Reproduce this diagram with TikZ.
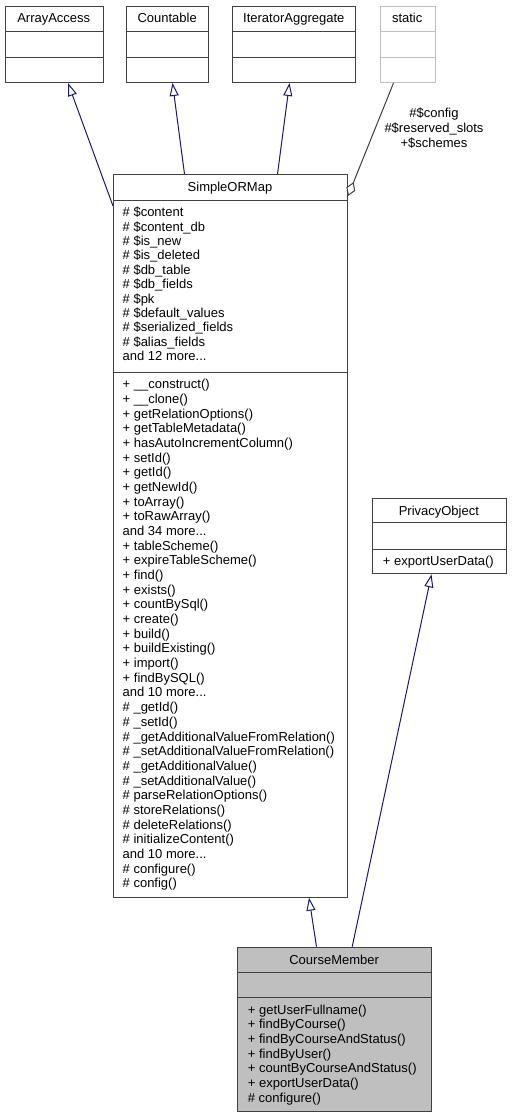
\documentclass[tikz,border=0pt]{standalone}
\usepackage{fontspec}
\setmainfont{Liberation Sans}
\usetikzlibrary{arrows.meta}
\definecolor{edgeblue}{HTML}{191970}
\definecolor{boxline}{HTML}{404040}
\definecolor{greyline}{HTML}{BFBFBF}
\definecolor{cmfill}{HTML}{BFBFBF}
\newcommand\moredots{...}
\tikzset{
  classbox/.style={draw=boxline, line width=1pt, fill=white, inner sep=0pt, anchor=north west},
  divider/.style={draw=boxline, line width=1pt},
  txt/.style={inner sep=0pt, anchor=base west, font=\fontsize{13}{14.68}\selectfont},
  ttl/.style={inner sep=0pt, anchor=base, font=\fontsize{13}{14.68}\selectfont},
  inherit/.style={draw=edgeblue, line width=1pt, -{Triangle[open, length=13pt, width=9pt, fill=white]}},
  usage/.style={draw=boxline, line width=1pt, -{Diamond[open, length=15pt, width=9.5pt, fill=white]}},
}
\begin{document}
\begin{tikzpicture}[x=1pt,y=-1pt]
\useasboundingbox (0,0) rectangle (512,1117);
\fill[white] (0,0) rectangle (512,1117);

% ---- top interface boxes
\node[classbox, minimum width=97.5pt, minimum height=76.5pt] (aa) at (5,5.5) {};
\draw[divider] ([yshift=-26pt]aa.north west) -- ([yshift=-26pt]aa.north east);
\draw[divider] ([yshift=-51.5pt]aa.north west) -- ([yshift=-51.5pt]aa.north east);
\node[ttl] (aat) at (53.75,22.8) {ArrayAccess};

\node[classbox, minimum width=81.7pt, minimum height=76.5pt] (cnt) at (126.3,5.5) {};
\draw[divider] ([yshift=-26pt]cnt.north west) -- ([yshift=-26pt]cnt.north east);
\draw[divider] ([yshift=-51.5pt]cnt.north west) -- ([yshift=-51.5pt]cnt.north east);
\node[ttl] (cntt) at (167.15,22.8) {Countable};

\node[classbox, minimum width=123pt, minimum height=76.5pt] (ia) at (232.3,5.5) {};
\draw[divider] ([yshift=-26pt]ia.north west) -- ([yshift=-26pt]ia.north east);
\draw[divider] ([yshift=-51.5pt]ia.north west) -- ([yshift=-51.5pt]ia.north east);
\node[ttl] (iat) at (293.8,22.8) {IteratorAggregate};

\node[classbox, draw=greyline, minimum width=55pt, minimum height=76.5pt] (st) at (379.7,5.5) {};
\draw[divider, draw=greyline] ([yshift=-26pt]st.north west) -- ([yshift=-26pt]st.north east);
\draw[divider, draw=greyline] ([yshift=-51.5pt]st.north west) -- ([yshift=-51.5pt]st.north east);
\node[ttl] (stt) at (407.2,22.8) {static};

% ---- SimpleORMap
\node[classbox, minimum width=234pt, minimum height=722.7pt] (sorm) at (113,174) {};
\draw[divider] ([yshift=-26.5pt]sorm.north west) -- ([yshift=-26.5pt]sorm.north east);
\draw[divider] ([yshift=-198.5pt]sorm.north west) -- ([yshift=-198.5pt]sorm.north east);
\node[ttl] (sormt) at (230,191.3) {SimpleORMap};
\foreach \t [count=\i] in {\# \$content, \# \$content\_db, \# \$is\_new, \# \$is\_deleted, \# \$db\_table, \# \$db\_fields, \# \$pk, \# \$default\_values, \# \$serialized\_fields, \# \$alias\_fields, and 12 more\moredots}
  \node[txt] (sa\i) at (122.5, 216.7+14.4*\i-14.4) {\t};
\foreach \t [count=\i] in {+ \_\_construct(), + \_\_clone(), + getRelationOptions(), + getTableMetadata(), + hasAutoIncrementColumn(), + setId(), + getId(), + getNewId(), + toArray(), + toRawArray(), and 34 more\moredots, + tableScheme(), + expireTableScheme(), + find(), + exists(), + countBySql(), + create(), + build(), + buildExisting(), + import(), + findBySQL(), and 10 more\moredots, \# \_getId(), \# \_setId(), \# \_getAdditionalValueFromRelation(), \# \_setAdditionalValueFromRelation(), \# \_getAdditionalValue(), \# \_setAdditionalValue(), \# parseRelationOptions(), \# storeRelations(), \# deleteRelations(), \# initializeContent(), and 10 more\moredots, \# configure(), \# config()}
  \node[txt] (sm\i) at (122.5, 388.7+14.68*\i-14.68) {\t};

% ---- PrivacyObject
\node[classbox, minimum width=134.3pt, minimum height=75pt] (po) at (371.7,498.3) {};
\draw[divider] ([yshift=-24.4pt]po.north west) -- ([yshift=-24.4pt]po.north east);
\draw[divider] ([yshift=-51pt]po.north west) -- ([yshift=-51pt]po.north east);
\node[ttl] (pot) at (438.85,515.6) {PrivacyObject};
\node[txt] (pom) at (382.7,565.5) {+ exportUserData()};

% ---- CourseMember
\node[classbox, fill=cmfill, minimum width=193.7pt, minimum height=164.3pt] (cm) at (237.3,946.7) {};
\draw[divider] ([yshift=-25.6pt]cm.north west) -- ([yshift=-25.6pt]cm.north east);
\draw[divider] ([yshift=-51pt]cm.north west) -- ([yshift=-51pt]cm.north east);
\node[ttl] (cmt) at (334.15,964) {CourseMember};
\foreach \t [count=\i] in {+ getUserFullname(), + findByCourse(), + findByCourseAndStatus(), + findByUser(), + countByCourseAndStatus(), + exportUserData(), \# configure()}
  \node[txt] (cmm\i) at (247.7, 1014+14.68*\i-14.68) {\t};

% ---- connectors
\draw[inherit] ([yshift=-32pt]sorm.north west) -- ([xshift=13.75pt]aa.south);
\draw[inherit] ([xshift=-46pt]sorm.north) -- ([xshift=4.85pt]cnt.south);
\draw[inherit] ([xshift=47pt]sorm.north) -- ([xshift=-4.8pt]ia.south);
\draw[usage] ([xshift=-14.2pt]st.south) -- ([yshift=-22pt]sorm.north east);
\node[ttl] (l1) at (434,117) {\#\$config};
\node[ttl] (l2) at (434,132) {\#\$reserved\_slots};
\node[ttl] (l3) at (434,147) {+\$schemes};
\draw[inherit] ([xshift=-18.15pt]cm.north) -- ([xshift=78.5pt]sorm.south);
\draw[inherit] ([xshift=17.55pt]cm.north) -- ([xshift=-7.85pt]po.south);
\end{tikzpicture}
\end{document}
